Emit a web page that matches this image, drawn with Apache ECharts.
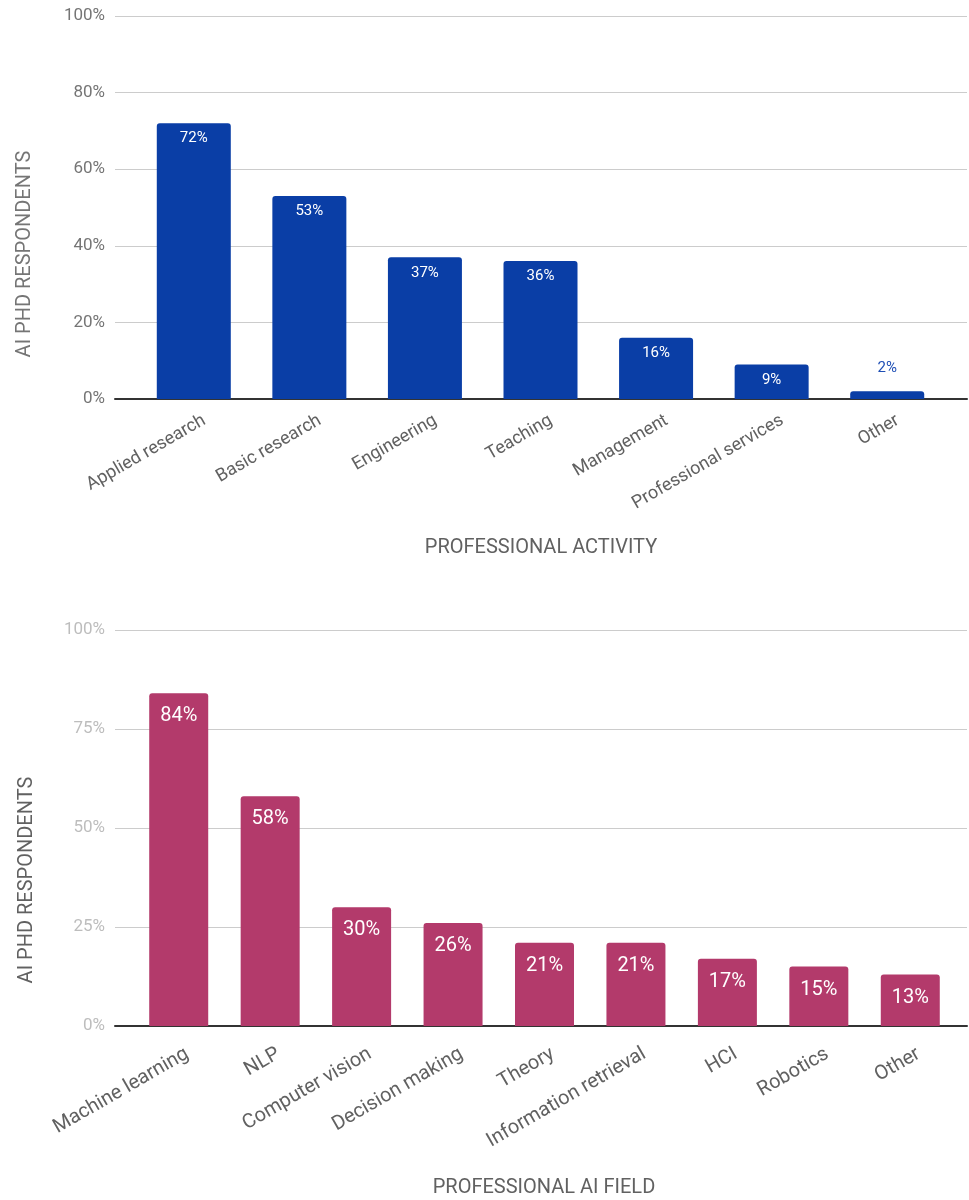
<!DOCTYPE html>
<html>
<head>
<meta charset="utf-8">
<script src="https://cdn.jsdelivr.net/npm/echarts@6/dist/echarts.min.js"></script>
<style>
  html, body { margin: 0; padding: 0; background: #fff; }
  #chart { width: 969px; height: 1200px; }
</style>
</head>
<body>
<div id="chart"></div>
<script>
// Professional activity of AI PhD respondents
const activityCategories = ['Applied research', 'Basic research', 'Engineering', 'Teaching', 'Management', 'Professional services', 'Other'];
const activityValues = [72, 53, 37, 36, 16, 9, 2];
const activityTicks = [0, 20, 40, 60, 80, 100];

// Professional AI field of AI PhD respondents
const fieldCategories = ['Machine learning', 'NLP', 'Computer vision', 'Decision making', 'Theory', 'Information retrieval', 'HCI', 'Robotics', 'Other'];
const fieldValues = [84, 58, 30, 26, 21, 21, 17, 15, 13];
const fieldTicks = [0, 25, 50, 75, 100];

const FONT = 'Roboto, "Noto Sans", sans-serif';
const BLUE = '#0a3ea6';
const PINK = '#b33a6b';

const chart = echarts.init(document.getElementById('chart'), null, { renderer: 'canvas' });

function barData(values, fontSize, dist, outsideColor) {
  return values.map(v => {
    const small = v < 5;
    return {
      value: v,
      label: {
        show: true,
        position: small ? 'top' : 'insideTop',
        distance: small ? 16 : dist,
        color: small ? outsideColor : '#ffffff',
        fontSize: fontSize,
        fontFamily: FONT,
        formatter: '{c}%'
      }
    };
  });
}

const option = {
  animation: false,
  grid: [
    { left: 115, width: 852, top: 16, height: 383 },   // top frame (grid lines)
    { left: 136, width: 809, top: 16, height: 383 },   // top bars
    { left: 115, width: 852, top: 630, height: 396 },  // bottom frame
    { left: 133, width: 823, top: 630, height: 396 }   // bottom bars
  ],
  xAxis: [
    { gridIndex: 0, type: 'category', data: [''], axisLine: { lineStyle: { color: '#333', width: 2 } }, axisTick: { show: false }, axisLabel: { show: false } },
    { gridIndex: 1, type: 'category', data: activityCategories, axisLine: { show: false }, axisTick: { show: false },
      axisLabel: { rotate: 30, margin: 16, interval: 0, color: '#616161', fontSize: 18, fontFamily: FONT,
                   verticalAlign: 'top', padding: [0, -7, 0, 0] } },
    { gridIndex: 2, type: 'category', data: [''], axisLine: { lineStyle: { color: '#333', width: 2 } }, axisTick: { show: false }, axisLabel: { show: false } },
    { gridIndex: 3, type: 'category', data: fieldCategories, axisLine: { show: false }, axisTick: { show: false },
      axisLabel: { rotate: 30, margin: 20, interval: 0, color: '#616161', fontSize: 20, fontFamily: FONT,
                   verticalAlign: 'top', padding: [0, -4, 0, 0] } }
  ],
  yAxis: [
    { gridIndex: 0, type: 'value', min: activityTicks[0], max: activityTicks[activityTicks.length - 1], interval: activityTicks[1] - activityTicks[0],
      axisLine: { show: false }, axisTick: { show: false },
      axisLabel: { formatter: '{value}%', color: '#757575', fontSize: 17, fontFamily: FONT, margin: 10 },
      splitLine: { lineStyle: { color: '#cccccc', width: 1 } } },
    { gridIndex: 1, type: 'value', min: 0, max: 100, show: false, splitLine: { show: false } },
    { gridIndex: 2, type: 'value', min: fieldTicks[0], max: fieldTicks[fieldTicks.length - 1], interval: fieldTicks[1] - fieldTicks[0],
      axisLine: { show: false }, axisTick: { show: false },
      axisLabel: { formatter: '{value}%', color: '#bdbdbd', fontSize: 17, fontFamily: FONT, margin: 10 },
      splitLine: { lineStyle: { color: '#cccccc', width: 1 } } },
    { gridIndex: 3, type: 'value', min: 0, max: 100, show: false, splitLine: { show: false } }
  ],
  series: [
    { type: 'bar', xAxisIndex: 1, yAxisIndex: 1, barWidth: 74, z: 3,
      itemStyle: { color: BLUE, borderRadius: [3, 3, 0, 0] },
      data: barData(activityValues, 15, 8, '#1f4fb5') },
    { type: 'bar', xAxisIndex: 3, yAxisIndex: 3, barWidth: 59, z: 3,
      itemStyle: { color: PINK, borderRadius: [3, 3, 0, 0] },
      data: barData(fieldValues, 20, 13, PINK) }
  ],
  graphic: [
    { type: 'text', x: 25, y: 254, rotation: Math.PI / 2,
      style: { text: 'AI PHD RESPONDENTS', fill: '#757575', font: '20px ' + FONT, align: 'center', verticalAlign: 'middle' } },
    { type: 'text', x: 541, y: 548,
      style: { text: 'PROFESSIONAL ACTIVITY', fill: '#616161', font: '20px ' + FONT, align: 'center', verticalAlign: 'middle' } },
    { type: 'text', x: 27, y: 880, rotation: Math.PI / 2,
      style: { text: 'AI PHD RESPONDENTS', fill: '#616161', font: '20px ' + FONT, align: 'center', verticalAlign: 'middle' } },
    { type: 'text', x: 544, y: 1188,
      style: { text: 'PROFESSIONAL AI FIELD', fill: '#616161', font: '20px ' + FONT, align: 'center', verticalAlign: 'middle' } }
  ]
};

chart.setOption(option);
</script>
</body>
</html>
